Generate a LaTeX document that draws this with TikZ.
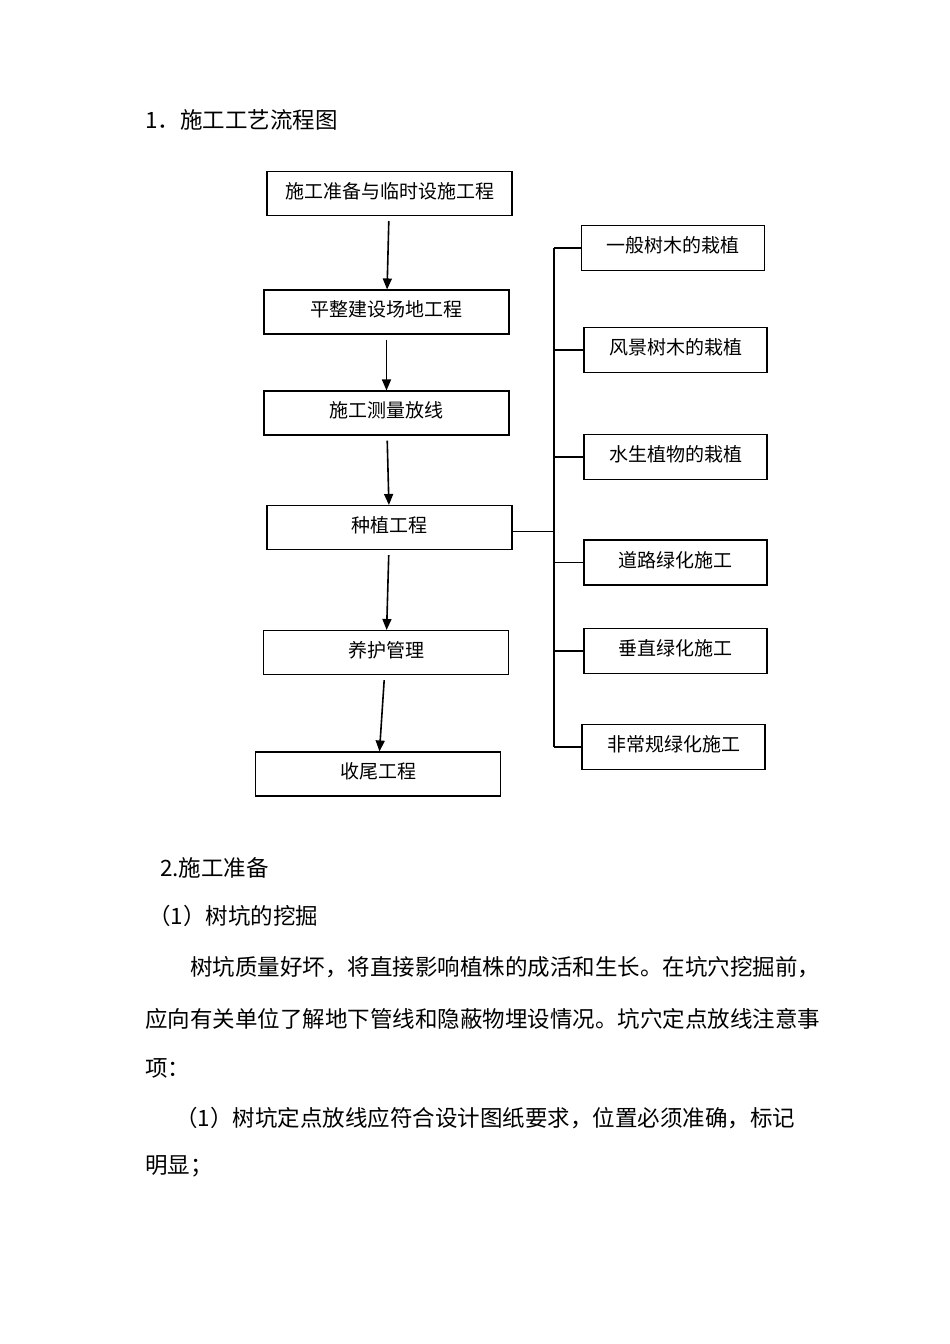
\documentclass[tikz,border=0pt]{standalone}
\usepackage{fontspec}
\setmainfont{Noto Sans CJK SC}
\usetikzlibrary{arrows.meta}

\tikzset{
    mainbox/.style={draw,line width=1.1pt,minimum width=245pt,minimum height=44pt,inner sep=0pt,text height=15pt,text depth=6pt,font=\fontsize{19}{19}\selectfont},
    sidebox/.style={draw,line width=1.1pt,minimum width=183pt,minimum height=45pt,inner sep=0pt,text height=15pt,text depth=6pt,font=\fontsize{19}{19}\selectfont},
    flow/.style={line width=1.6pt,-{Triangle[length=11pt,width=9pt]},shorten <=5pt},
    bodytext/.style={anchor=west,inner sep=0pt,font=\fontsize{22.5}{22.5}\selectfont}
}

\begin{document}
\begin{tikzpicture}[x=1pt,y=-1pt]
        \fill[white] (0,0) rectangle (950,1344);
        \useasboundingbox (0,0) rectangle (950,1344);
        \def\busX{554}

        \foreach \name/\x/\y/\label in {b1/389.5/193.5/施工准备与临时设施工程,b2/386.5/312/平整建设场地工程,b3/386.5/413/施工测量放线,b4/389.5/527.5/种植工程,b5/386/652.5/养护管理,b6/378/774/收尾工程} {
                \node[mainbox] (\name) at (\x,\y) {\label};
            }

        \foreach \from/\to in {b1/b2,b2/b3,b3/b4,b4/b5,b5/b6} {
                \draw[flow] (\from) -- (\to);
            }

        \coordinate (bus) at (\busX,0);
        \foreach \name/\x/\y/\label in {ra/673/248/一般树木的栽植,rb/675.5/350/风景树木的栽植,rc/675.5/457/水生植物的栽植,rd/675.5/562.5/道路绿化施工,re/675.5/651/垂直绿化施工,rf/673.5/747/非常规绿化施工} {
                \node[sidebox] (\name) at (\x,\y) {\label};
                \draw[line width=1.1pt] (\name.west) -- (\name.west -| bus);
            }
        \draw[line width=1.1pt] (ra.west -| bus) -- (rf.west -| bus);
        \coordinate (tap) at ([yshift=-4pt]b4.east);
        \draw[line width=1.1pt] (tap) -- (tap -| bus);

        \node[bodytext] (title) at (145,120) {1．施工工艺流程图};
        \node[bodytext] (sec) at (160,868) {2.施工准备};
        \node[bodytext] (sub) at (148,916) {（1）树坑的挖掘};
        \node[bodytext] (p1) at (190,967) {树坑质量好坏，将直接影响植株的成活和生长。在坑穴挖掘前，};
        \node[bodytext] (p2) at (145,1019) {应向有关单位了解地下管线和隐蔽物埋设情况。坑穴定点放线注意事};
        \node[bodytext] (p3) at (145,1068) {项：};
        \node[bodytext] (p4) at (175,1118) {（1）树坑定点放线应符合设计图纸要求，位置必须准确，标记};
        \node[bodytext] (p5) at (145,1166) {明显；};
    \end{tikzpicture}
\end{document}
